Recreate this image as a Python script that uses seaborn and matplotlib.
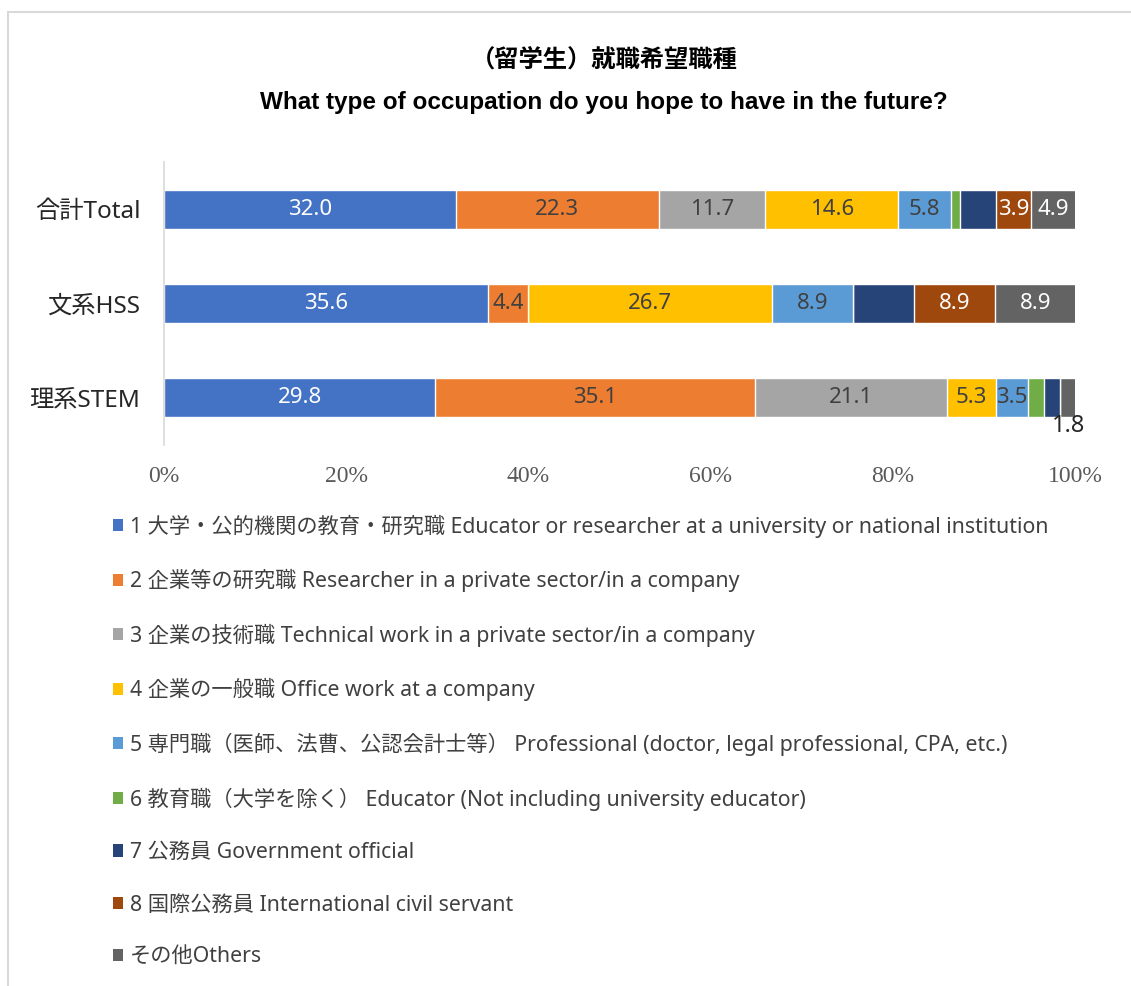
import numpy as np
import pandas as pd
import seaborn as sns
import matplotlib.pyplot as plt
from matplotlib.patches import Patch, Rectangle

# データ
groups = ['合計Total', '文系HSS', '理系STEM']
series_names = [
    '1 大学・公的機関の教育・研究職 Educator or researcher at a university or national institution',
    '2 企業等の研究職 Researcher in a private sector/in a company',
    '3 企業の技術職 Technical work in a private sector/in a company',
    '4 企業の一般職 Office work at a company',
    '5 専門職（医師、法曹、公認会計士等） Professional (doctor, legal professional, CPA, etc.)',
    '6 教育職（大学を除く） Educator (Not including university educator)',
    '7 公務員 Government official',
    '8 国際公務員 International civil servant',
    'その他Others',
]
s1 = [32.0, 35.6, 29.8]
s2 = [22.3, 4.4, 35.1]
s3 = [11.7, 0.0, 21.1]
s4 = [14.6, 26.7, 5.3]
s5 = [5.8, 8.9, 3.5]
s6 = [1.0, 0.0, 1.8]
s7 = [3.9, 6.7, 1.8]
s8 = [3.9, 8.9, 0.0]
s9 = [4.9, 8.9, 1.8]
values = [s1, s2, s3, s4, s5, s6, s7, s8, s9]

colors = ['#4472C4', '#ED7D31', '#A5A5A5', '#FFC000', '#5B9BD5',
          '#70AD47', '#264478', '#9E480E', '#636363']
text_colors = ['white', '#404040', '#404040', '#404040', '#404040',
               None, None, 'white', 'white']

sns.set_theme(style='white')
plt.rcParams['font.family'] = ['Noto Sans', 'Noto Sans CJK JP', 'DejaVu Sans']

fig = plt.figure(figsize=(11.31, 9.86), dpi=100)
ax = fig.add_axes([164 / 1131, 1 - 445 / 986, (1075 - 164) / 1131, (445 - 162) / 986])

# 枠線
fig.patches.append(Rectangle((8 / 1131, -0.1), 1.2, 1 - 12 / 986 + 0.1,
                             transform=fig.transFigure, fill=False,
                             edgecolor='#d9d9d9', linewidth=1.5))

# 積み上げ（累積値を大きい順に重ねる）
df = pd.DataFrame(np.array(values).T, index=groups)
cum = df.cumsum(axis=1)
for i in reversed(range(len(values))):
    sns.barplot(x=cum[i].values, y=groups, orient='h', color=colors[i],
                width=0.41, saturation=1, ax=ax)

# 数値ラベル
starts = cum - df
for i in range(len(values)):
    if text_colors[i] is None:
        continue
    for j, g in enumerate(groups):
        v = df.iloc[j, i]
        if v <= 0:
            continue
        xc = starts.iloc[j, i] + v / 2
        if v < 2.5:
            # 収まらないラベルはバーの下に
            ax.text(xc, j + 0.3, f'{v:.1f}', ha='center', va='center',
                    fontsize=17, color='#262626')
        else:
            ax.text(xc, j, f'{v:.1f}', ha='center', va='center',
                    fontsize=16, color=text_colors[i])

ax.set_xlim(0, 100)
ax.set_ylim(2.5, -0.5)
ax.set_xticks(range(0, 101, 20))
ax.set_xticklabels([f'{t}%' for t in range(0, 101, 20)],
                   family='Liberation Serif', fontsize=17, color='#595959')
ax.tick_params(axis='x', pad=15, length=0)
ax.tick_params(axis='y', pad=17, length=0, labelsize=17.5, labelcolor='#262626')
ax.set_xlabel('')
ax.set_ylabel('')
for s in ['top', 'right', 'bottom']:
    ax.spines[s].set_visible(False)
ax.spines['left'].set_color('#d9d9d9')
ax.spines['left'].set_linewidth(1.2)

title_x = 604 / 1131
fig.text(title_x, 1 - 62 / 986, '（留学生）就職希望職種', ha='center', va='center',
         fontsize=17.5, fontweight='bold', color='#000000')
fig.text(title_x, 1 - 102 / 986, 'What type of occupation do you hope to have in the future?',
         ha='center', va='center', fontsize=17.5, fontweight='bold',
         family='Liberation Sans', color='#000000')

handles = [Patch(facecolor=c, edgecolor='none') for c in colors]
leg = fig.legend(handles, series_names, loc='upper left',
                 bbox_to_anchor=(104 / 1131, 1 - 506 / 986), frameon=False,
                 fontsize=15.3, handlelength=0.5, handleheight=0.5,
                 handletextpad=0.3, labelspacing=1.48, borderaxespad=0)
for t in leg.get_texts():
    t.set_color('#404040')

fig.savefig('out.png', dpi=100)
